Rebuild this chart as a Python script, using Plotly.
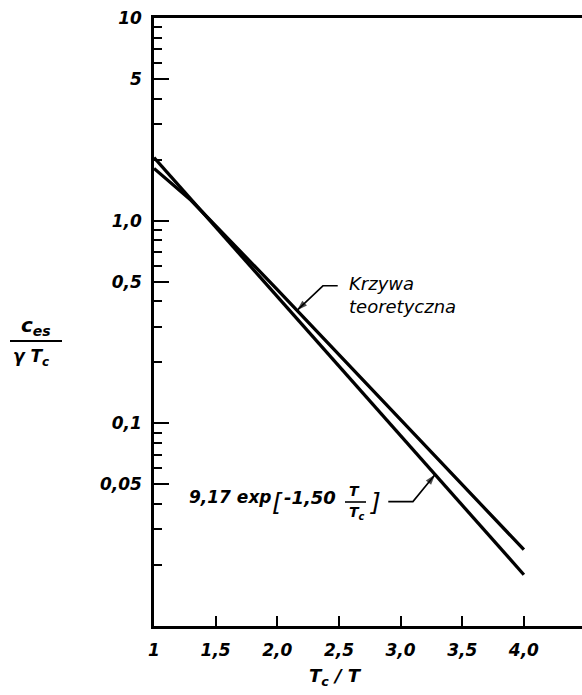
import numpy as np
import plotly.graph_objects as go

# Electronic specific heat of the superconducting state, c_es/(gamma*T_c), vs T_c/T
tc_over_t_fit = [1.0, 4.0]
ces_fit = [2.05, 0.0179]

tc_over_t_theory = [1.0, 1.3, 2.0, 3.0, 4.0]
ces_theory = [1.81, 1.26, 0.457, 0.105, 0.0238]

x_tick_vals = [1, 1.5, 2.0, 2.5, 3.0, 3.5, 4.0]
x_tick_text = ["1", "1,5", "2,0", "2,5", "3,0", "3,5", "4,0"]
y_tick_vals = [0.05, 0.1, 0.5, 1, 5, 10]
y_tick_text = ["0,05", "0,1", "0,5", "1,0", "5", "10"]
y_minor_vals = [0.02, 0.03, 0.04, 0.06, 0.07, 0.08, 0.09,
                0.2, 0.3, 0.4, 0.6, 0.7, 0.8, 0.9,
                2, 3, 4, 6, 7, 8, 9]

# anchor points of the two callout leaders (elbow and start of the horizontal stroke)
theory_leader_x = [2.49, 2.37]
theory_leader_y = [0.477, 0.477]
theory_tip_x = 2.16
fit_leader_x = [2.90, 3.10]
fit_leader_y = [0.0411, 0.0411]
fit_tip_x = 3.28

W, H = 582, 695
PL, PT, PW, PH = 154, 18, 428, 608


def px(xp):
    return (xp - PL) / PW


def py(yp):
    return (PT + PH - yp) / PH


def on_curve(xs, ys, x):
    return 10 ** np.interp(x, xs, np.log10(ys))


ink = "black"
fam = "DejaVu Sans"
bold_it = dict(family=fam, size=17, color=ink, style="italic", weight="bold")
reg_it = dict(family=fam, size=18, color=ink, style="italic")
frac_it = dict(family=fam, size=14, color=ink, style="italic", weight="bold")
brk = dict(family=fam, size=25, color=ink, style="italic")

fig = go.Figure()

fig.add_trace(go.Scatter(x=tc_over_t_fit, y=ces_fit, mode="lines",
                         line=dict(color=ink, width=3.3), hoverinfo="skip"))
fig.add_trace(go.Scatter(x=tc_over_t_theory, y=ces_theory, mode="lines",
                         line=dict(color=ink, width=3.3), hoverinfo="skip"))

# callout leaders with dart arrowheads
for lx, ly, tx, cx, cy in [
    (theory_leader_x, theory_leader_y, theory_tip_x, tc_over_t_theory, ces_theory),
    (fit_leader_x, fit_leader_y, fit_tip_x, tc_over_t_fit, ces_fit),
]:
    fig.add_trace(go.Scatter(
        x=lx + [tx], y=ly + [on_curve(cx, cy, tx)], mode="lines+markers",
        line=dict(color=ink, width=1.6),
        marker=dict(symbol="arrow", size=[0, 0, 11], angleref="previous",
                    color=ink, line=dict(width=0)),
        hoverinfo="skip"))

fig.update_layout(
    width=W, height=H, autosize=False,
    margin=dict(l=PL, r=W - PL - PW, t=PT, b=H - PT - PH),
    paper_bgcolor="white", plot_bgcolor="white",
    showlegend=False,
    xaxis=dict(
        range=[1, 1 + PW / 123.3], showgrid=False, zeroline=False,
        showline=True, linecolor=ink, linewidth=2.5, mirror=True,
        ticks="inside", ticklen=10, tickwidth=2, tickcolor=ink,
        tickmode="array", tickvals=x_tick_vals, ticktext=x_tick_text,
        tickfont=bold_it, ticklabelstandoff=7,
    ),
    yaxis=dict(
        type="log", range=[-2, 1], showgrid=False, zeroline=False,
        showline=True, linecolor=ink, linewidth=2.5,
        ticks="inside", ticklen=15, tickwidth=2, tickcolor=ink,
        tickmode="array", tickvals=y_tick_vals, ticktext=y_tick_text,
        tickfont=bold_it, ticklabelstandoff=6,
        minor=dict(tickmode="array", tickvals=y_minor_vals, ticks="inside",
                   ticklen=8, tickwidth=2, tickcolor=ink, showgrid=False),
    ),
)


def note(text, xp, yp, font, xanchor="center", yanchor="middle", align="center"):
    fig.add_annotation(text=text, xref="paper", yref="paper", x=px(xp), y=py(yp),
                       xanchor=xanchor, yanchor=yanchor, align=align,
                       showarrow=False, font=font)


def bar(x0, x1, yp, width=2):
    fig.add_shape(type="line", xref="paper", yref="paper",
                  x0=px(x0), x1=px(x1), y0=py(yp), y1=py(yp),
                  line=dict(color=ink, width=width))


# y axis title: c_es / (gamma T_c)
note("c<sub>es</sub>", 36, 326, dict(family=fam, size=20, color=ink, style="italic", weight="bold"))
bar(10, 62, 341)
note("γ T<sub>c</sub>", 31, 357, dict(family=fam, size=17, color=ink, style="italic", weight="bold"))

# x axis title: T_c / T
note("T<sub>c</sub> / T", 335, 677, dict(family=fam, size=18, color=ink, style="italic", weight="bold"))

# label of the theoretical curve
note("Krzywa<br>teoretyczna", 347, 295, reg_it, xanchor="left", align="left")

# label of the empirical fit: 9,17 exp[-1,50 T/T_c]
note("9,17 exp", 187, 497, bold_it, xanchor="left")
note("[", 270, 502, brk, xanchor="left")
note("-1,50", 282, 497, dict(bold_it, size=18), xanchor="left")
note("T", 354, 491, frac_it)
bar(345, 366, 502, 1.6)
note("T<sub>c</sub>", 357, 513, frac_it)
note("]", 368, 502, brk, xanchor="left")

fig.write_html("out.html")
